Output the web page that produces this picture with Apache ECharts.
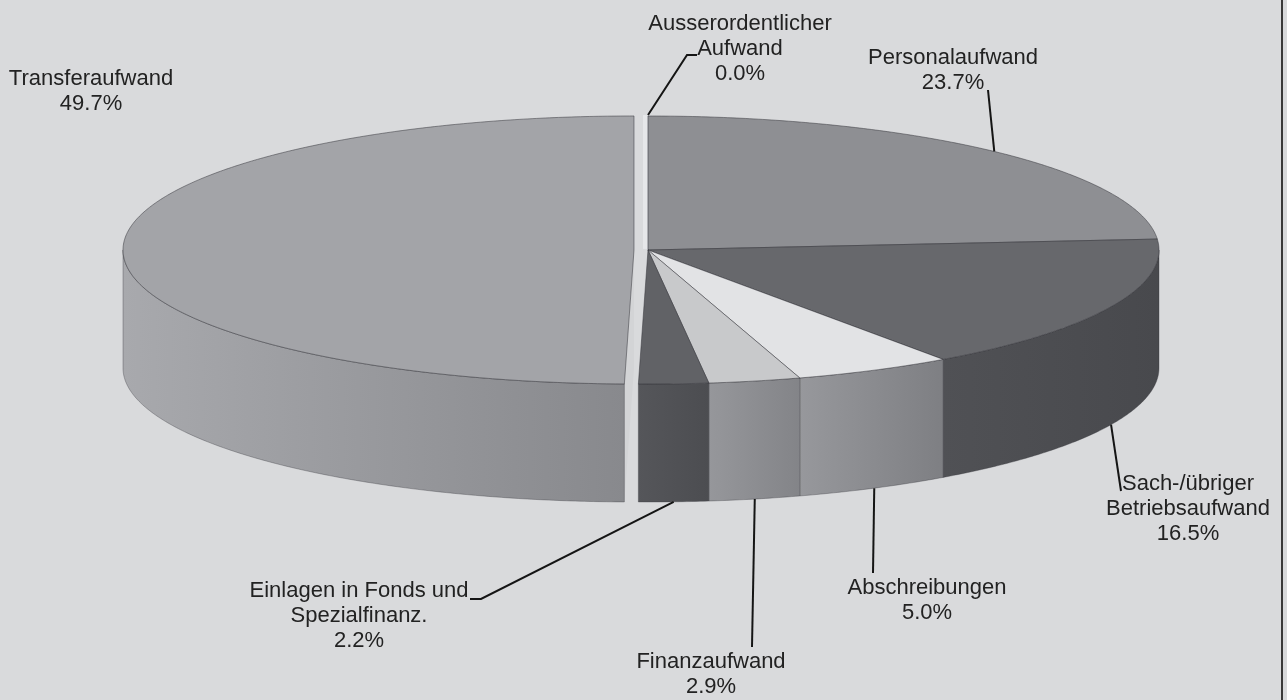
<!DOCTYPE html>
<html>
<head>
<meta charset="utf-8">
<script src="https://cdn.jsdelivr.net/npm/echarts@6/dist/echarts.min.js"></script>
<style>
    html, body { margin: 0; padding: 0; background: #d9dadc; }
    #chart { width: 1287px; height: 700px; }
</style>
</head>
<body>
<div id="chart"></div>
<script>
// Daten (Anteile in %, im Uhrzeigersinn ab 12 Uhr)
const categories = ['Personalaufwand', 'Sach-/übriger Betriebsaufwand', 'Abschreibungen', 'Finanzaufwand',
    'Einlagen in Fonds und Spezialfinanz.', 'Transferaufwand', 'Ausserordentlicher Aufwand'];
const labelLines = ['Personalaufwand', 'Sach-/übriger\nBetriebsaufwand', 'Abschreibungen', 'Finanzaufwand',
    'Einlagen in Fonds und\nSpezialfinanz.', 'Transferaufwand', 'Ausserordentlicher\nAufwand'];
const shares = [23.7, 16.5, 5.0, 2.9, 2.2, 49.7, 0.0];

// Darstellung
const topColors = ['#8e8f93', '#67686c', '#e2e3e5', '#c8c9cb', '#616266', '#a3a4a8', '#e6e7e9'];
const sideColors = [['#7a7b7f', '#6e6f73'], ['#505155', '#48494d'], ['#97989c', '#7e7f83'], ['#96979b', '#838488'],
    ['#55565a', '#4c4d51'], ['#a8a9ad', '#88898d'], ['#d5d6d8', '#d5d6d8']];
const explode = [0, 0, 0, 0, 0, 14, 4];
// Label: Mitte x, Oberkante y
const labelPos = [[953, 45], [1188, 471], [927, 575], [711, 649], [359, 578], [91, 66], [740, 11]];
// Endpunkte der Führungslinien (Label-Seite)
const leaderEnds = [[[988, 90]], [[1121, 491]], [[873, 573]], [[752, 647]], [[481, 599], [470, 599]], null, [[687, 55], [697, 55]]];

const CX = 648, CY = 250, RX = 511, RY = 134, DEPTH = 118;
const total = shares.reduce((s, v) => s + v, 0);
const startAngles = [], endAngles = [];
let acc = 0;
shares.forEach(v => {
    startAngles.push(acc / total * Math.PI * 2);
    acc += v;
    endAngles.push(acc / total * Math.PI * 2);
});

function pt(a, ox, oy, dz) {
    return [CX + ox + RX * Math.sin(a), CY + oy - RY * Math.cos(a) + (dz || 0)];
}

function arc(a1, a2, ox, oy, dz) {
    const pts = [];
    const n = Math.max(2, Math.ceil((a2 - a1) / (Math.PI / 360)));
    for (let k = 0; k <= n; k++) {
        pts.push(pt(a1 + (a2 - a1) * k / n, ox, oy, dz));
    }
    return pts;
}

function renderItem(params, api) {
    const i = params.dataIndex;
    const value = api.value(1);
    const a1 = startAngles[i], a2 = endAngles[i];
    const mid = (a1 + a2) / 2;
    const ex = explode[i];
    const ox = ex * Math.sin(mid), oy = -ex * Math.cos(mid) * RY / RX;
    const apex = [CX + ox, CY + oy];
    const children = [];

    if (a2 - a1 > 1e-6) {
        // Deckfläche
        children.push({
            type: 'polygon',
            z2: 30,
            shape: { points: [apex].concat(arc(a1, a2, ox, oy)) },
            style: { fill: topColors[i], stroke: 'rgba(50,50,55,0.5)', lineWidth: 1 }
        });
        // Mantelfläche vorne
        const s1 = Math.max(a1, Math.PI / 2), s2 = Math.min(a2, Math.PI * 1.5);
        if (s2 > s1) {
            const upper = arc(s1, s2, ox, oy);
            const lower = arc(s1, s2, ox, oy, DEPTH).reverse();
            children.push({
                type: 'polygon',
                z2: 20,
                shape: { points: upper.concat(lower) },
                style: {
                    fill: new echarts.graphic.LinearGradient(0, 0, 1, 0, [
                        { offset: 0, color: sideColors[i][0] },
                        { offset: 1, color: sideColors[i][1] }
                    ]),
                    stroke: 'rgba(55,55,60,0.35)', lineWidth: 1
                }
            });
        }
        // Schnittfläche bei herausgezogenen Segmenten
        if (ex > 0 && -Math.sin(a1) > 0) {
            const r = pt(a1, ox, oy);
            children.push({
                type: 'polygon',
                z2: 10,
                shape: { points: [apex, r, [r[0], r[1] + DEPTH], [apex[0], apex[1] + DEPTH]] },
                style: { fill: '#d3d4d6' }
            });
        }
    } else {
        // Segment mit 0 %
        const r = pt(a1, ox, oy);
        children.push({
            type: 'line',
            z2: 30,
            shape: { x1: apex[0] - 3, y1: apex[1], x2: r[0] - 3, y2: r[1] },
            style: { stroke: topColors[i], lineWidth: 4 }
        });
    }

    // Führungslinie
    if (leaderEnds[i]) {
        const front = mid > Math.PI / 2 && mid < Math.PI * 1.5;
        const anchor = pt(mid, ox, oy, front ? DEPTH : 0);
        children.push({
            type: 'polyline',
            z2: 40,
            shape: { points: [anchor].concat(leaderEnds[i]) },
            style: { stroke: '#151515', lineWidth: 2, fill: null }
        });
    }

    // Beschriftung
    children.push({
        type: 'text',
        z2: 50,
        style: {
            text: labelLines[i] + '\n' + value.toFixed(1) + '%',
            x: labelPos[i][0],
            y: labelPos[i][1],
            align: 'center',
            verticalAlign: 'top',
            font: '22px "Liberation Sans", Arial, sans-serif',
            lineHeight: 25,
            fill: '#222222'
        }
    });

    return { type: 'group', children: children };
}

const chart = echarts.init(document.getElementById('chart'));
chart.setOption({
    backgroundColor: '#d9dadc',
    animation: false,
    graphic: [{
        type: 'rect',
        shape: { x: 1281, y: 0, width: 2, height: 700 },
        style: { fill: '#3a3a3a' }
    }],
    series: [{
        type: 'custom',
        coordinateSystem: 'none',
        data: shares.map((v, i) => [i, v, categories[i]]),
        renderItem: renderItem
    }]
});

window.addEventListener('resize', function() {
    chart.resize();
});
</script>
</body>
</html>
